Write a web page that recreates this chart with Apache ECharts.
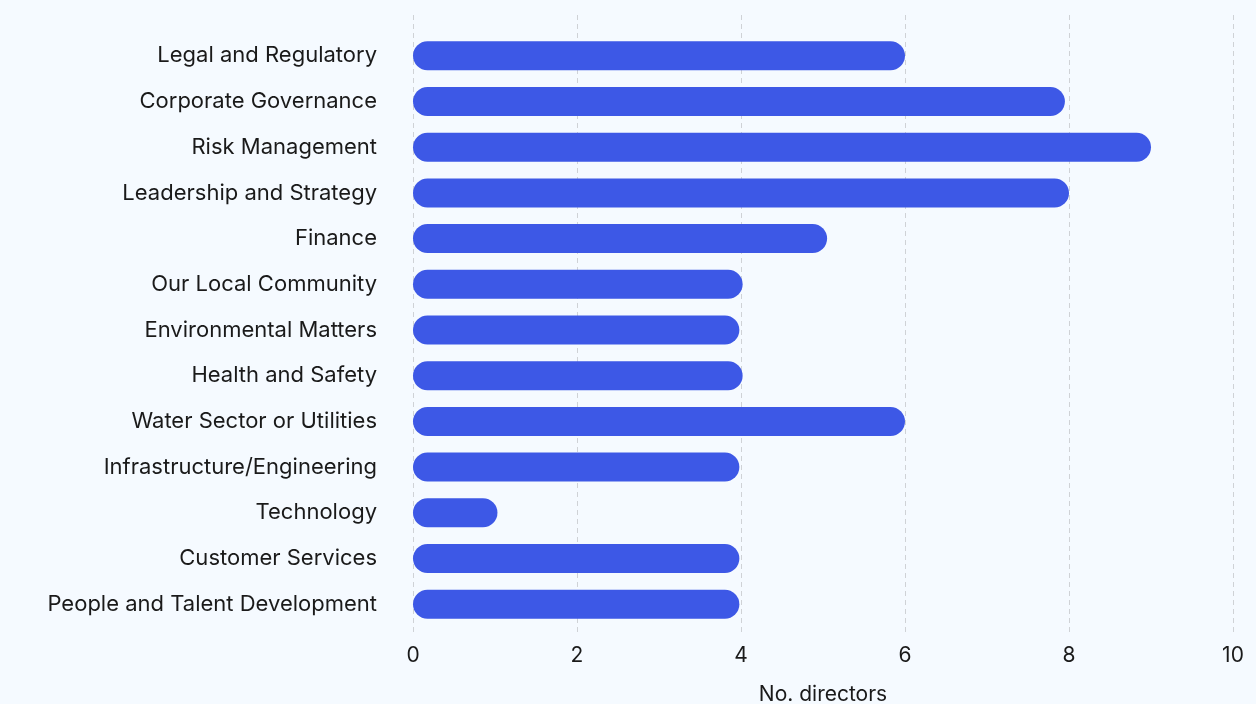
<!DOCTYPE html>
<html>
<head>
<meta charset="utf-8">
<script src="https://cdn.jsdelivr.net/npm/echarts@6/dist/echarts.min.js"></script>
<style>
  html, body { margin: 0; padding: 0; background: #f5faff; }
  #chart { width: 1256px; height: 704px; }
</style>
</head>
<body>
<div id="chart"></div>
<script>
var categories = [
  'Legal and Regulatory',
  'Corporate Governance',
  'Risk Management',
  'Leadership and Strategy',
  'Finance',
  'Our Local Community',
  'Environmental Matters',
  'Health and Safety',
  'Water Sector or Utilities',
  'Infrastructure/Engineering',
  'Technology',
  'Customer Services',
  'People and Talent Development'
];
var directors = [6, 7.95, 9, 8, 5.05, 4.02, 3.98, 4.02, 6, 3.98, 1.03, 3.98, 3.98];
var xTicks = { min: 0, max: 10, interval: 2 };
var xTitle = 'No. directors';

var chart = echarts.init(document.getElementById('chart'));
var fontFamily = 'Inter, "Noto Sans", sans-serif';

var option = {
  backgroundColor: '#f5faff',
  textStyle: { fontFamily: fontFamily },
  // x axis title, placed under the tick labels
  title: {
    text: xTitle,
    left: 823,
    top: 684,
    textAlign: 'center',
    padding: 0,
    textStyle: { color: '#1a1a1a', fontSize: 21, fontWeight: 'normal', fontFamily: fontFamily }
  },
  grid: [
    // grid for dashed lines + tick labels
    { left: 413, right: 23, top: 15, bottom: 72, outerBoundsMode: 'none' },
    // grid for the bars
    { left: 413, right: 23, top: 33, height: 594, outerBoundsMode: 'none' }
  ],
  xAxis: [{
    gridIndex: 0,
    type: 'value',
    min: xTicks.min,
    max: xTicks.max,
    interval: xTicks.interval,
    axisLine: { show: false },
    axisTick: { show: false },
    axisLabel: { color: '#1a1a1a', fontSize: 21, margin: 13, fontFamily: fontFamily },
    splitLine: { show: true, lineStyle: { color: '#cfd2d6', type: [5, 4], width: 1 } }
  }, {
    gridIndex: 1,
    type: 'value',
    min: xTicks.min,
    max: xTicks.max,
    show: false
  }],
  yAxis: [{
    gridIndex: 0,
    type: 'category',
    data: [''],
    show: false
  }, {
    gridIndex: 1,
    type: 'category',
    data: categories,
    inverse: true,
    axisLine: { show: false },
    axisTick: { show: false },
    splitLine: { show: false },
    axisLabel: { color: '#1a1a1a', fontSize: 22, margin: 36, fontFamily: fontFamily }
  }],
  series: [{
    name: 'No. directors',
    type: 'bar',
    xAxisIndex: 1,
    yAxisIndex: 1,
    data: directors,
    barWidth: 29,
    itemStyle: { color: '#3d58e6', borderRadius: 14.5 }
  }]
};

chart.setOption(option);
</script>
</body>
</html>
